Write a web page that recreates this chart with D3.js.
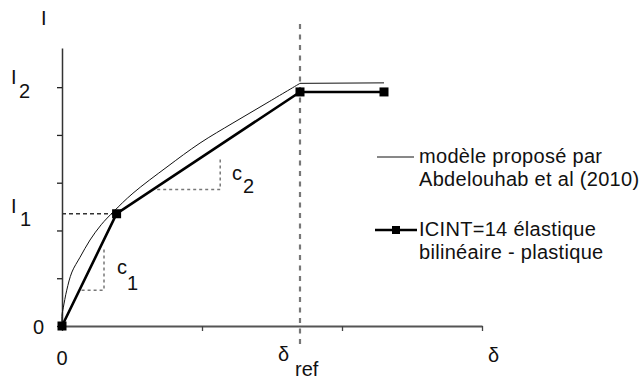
<!DOCTYPE html>
<html><head><meta charset="utf-8">
<script src="https://cdn.jsdelivr.net/npm/d3@7"></script>
<style>body{margin:0;background:#fff}svg{display:block}text{font-family:"Liberation Sans",Arial,sans-serif;fill:#111}</style>
</head><body><svg id="c" width="641" height="381"></svg>
<script>
// data (x = displacement δ, y = intensity I)
const modelX = [0, 0, 0.009, 0.034, 0.071, 0.129, 0.2, 0.28, 0.37, 0.507, 0.75, 0.986, 1.221, 1.464, 1.7];
const modelY = [0, 0.23, 0.38, 0.75, 1.13, 1.44, 1.8, 2.12, 2.4, 2.78, 3.33, 3.83, 4.25, 4.67, 5.08];
const plateauX = [1.7, 2.3];
const plateauY = [5.08, 5.09];
const bilinX = [0, 0.39, 1.7, 2.3];
const bilinY = [0, 2.35, 4.9, 4.9];
const yTicks = [0, 1, 2, 3, 4, 5];
const xTicks = [0, 1, 2, 3];
const deltaRef = 1.7;
const I1 = 2.35, I2 = 5;
const c1 = {x0: 0.14, x1: 0.30, y0: 0.75, y1: 1.63};
const c2 = {x0: 0.68, x1: 1.13, y0: 2.86, y1: 3.54};
const legendLabels = [["modèle proposé par", "Abdelouhab et al (2010)"], ["ICINT=14 élastique", "bilinéaire - plastique"]];

const svg = d3.select("#c");
const x = d3.scaleLinear().domain([0, 3]).range([62, 482]);
const y = d3.scaleLinear().domain([0, 5.82]).range([326, 48]);

// axes
const ya = svg.append("g").attr("transform", "translate(62,0)")
  .call(d3.axisLeft(y).tickValues(yTicks).tickSize(5).tickSizeOuter(0).tickFormat(""));
ya.select(".domain").attr("stroke", "#333").attr("stroke-width", 1.5);
ya.selectAll(".tick line").attr("stroke", "#222").attr("stroke-width", 1.3);
const xa = svg.append("g").attr("transform", "translate(0,326)")
  .call(d3.axisBottom(x).tickValues(xTicks).tickSize(5).tickSizeOuter(0).tickFormat(""));
xa.select(".domain").attr("stroke", "#555").attr("stroke-width", 2);
xa.selectAll(".tick line").attr("stroke", "#444").attr("stroke-width", 1.3);

// dashed guide lines
svg.append("line").attr("x1", x(deltaRef)).attr("x2", x(deltaRef)).attr("y1", 24).attr("y2", 344)
  .attr("stroke", "#777").attr("stroke-width", 2.2).attr("stroke-dasharray", "5,5.5");
svg.append("line").attr("x1", x(0)).attr("x2", x(bilinX[1])).attr("y1", y(I1)).attr("y2", y(I1))
  .attr("stroke", "#333").attr("stroke-width", 1.3).attr("stroke-dasharray", "4,3");
[c1, c2].forEach(c => {
  svg.append("path").attr("d", `M${x(c.x0)},${y(c.y0)}H${x(c.x1)}V${y(c.y1)}`)
    .attr("fill", "none").attr("stroke", "#777").attr("stroke-width", 1.5).attr("stroke-dasharray", "3,3");
});

// model curve
const curve = d3.line().x(d => x(d[0])).y(d => y(d[1])).curve(d3.curveCatmullRom.alpha(0.5));
const straight = d3.line().x(d => x(d[0])).y(d => y(d[1]));
svg.append("path").datum(modelX.map((v, i) => [v, modelY[i]])).attr("d", curve)
  .attr("fill", "none").attr("stroke", "#111").attr("stroke-width", 1);
svg.append("path").datum(plateauX.map((v, i) => [v, plateauY[i]])).attr("d", straight)
  .attr("fill", "none").attr("stroke", "#111").attr("stroke-width", 1);
// bilinear
const bl = bilinX.map((v, i) => [v, bilinY[i]]);
svg.append("path").datum(bl).attr("d", straight)
  .attr("fill", "none").attr("stroke", "#000").attr("stroke-width", 2.6);
svg.selectAll("rect.m").data(bl).join("rect").attr("class", "m")
  .attr("x", d => x(d[0]) - 4.5).attr("y", d => y(d[1]) - 4.5).attr("width", 9).attr("height", 9).attr("fill", "#000");

// text labels
const fs = 20;
function t(str, px, py, anchor, size) {
  return svg.append("text").attr("x", px).attr("y", py).attr("font-size", size || fs)
    .attr("text-anchor", anchor || "start").text(str);
}
t("I", 41, 25);
t("I", 11, y(I2) - 3); t("2", 19, y(I2) + 11);
t("I", 11, y(I1) - 1); t("1", 20, y(I1) + 12);
t("0", 44, 334, "end");
t("0", x(0), 365, "middle");
t("δ", 278, 361); t("ref", 295, 376);
t("δ", 488, 362);
t("c", 117, 274); t("1", 127, 290);
t("c", 232, 180); t("2", 243, 193);

// legend
svg.append("line").attr("x1", 377).attr("x2", 414).attr("y1", 157).attr("y2", 157).attr("stroke", "#111").attr("stroke-width", 1);
svg.append("line").attr("x1", 375).attr("x2", 417).attr("y1", 230).attr("y2", 230).attr("stroke", "#000").attr("stroke-width", 2.6);
svg.append("rect").attr("x", 392).attr("y", 226).attr("width", 8).attr("height", 8).attr("fill", "#000");
t(legendLabels[0][0], 419, 163).attr("letter-spacing", 0.3); t(legendLabels[0][1], 419, 186).attr("letter-spacing", 0.3);
t(legendLabels[1][0], 419, 236).attr("letter-spacing", 0.3); t(legendLabels[1][1], 419, 259).attr("letter-spacing", 0.3);
</script></body></html>
